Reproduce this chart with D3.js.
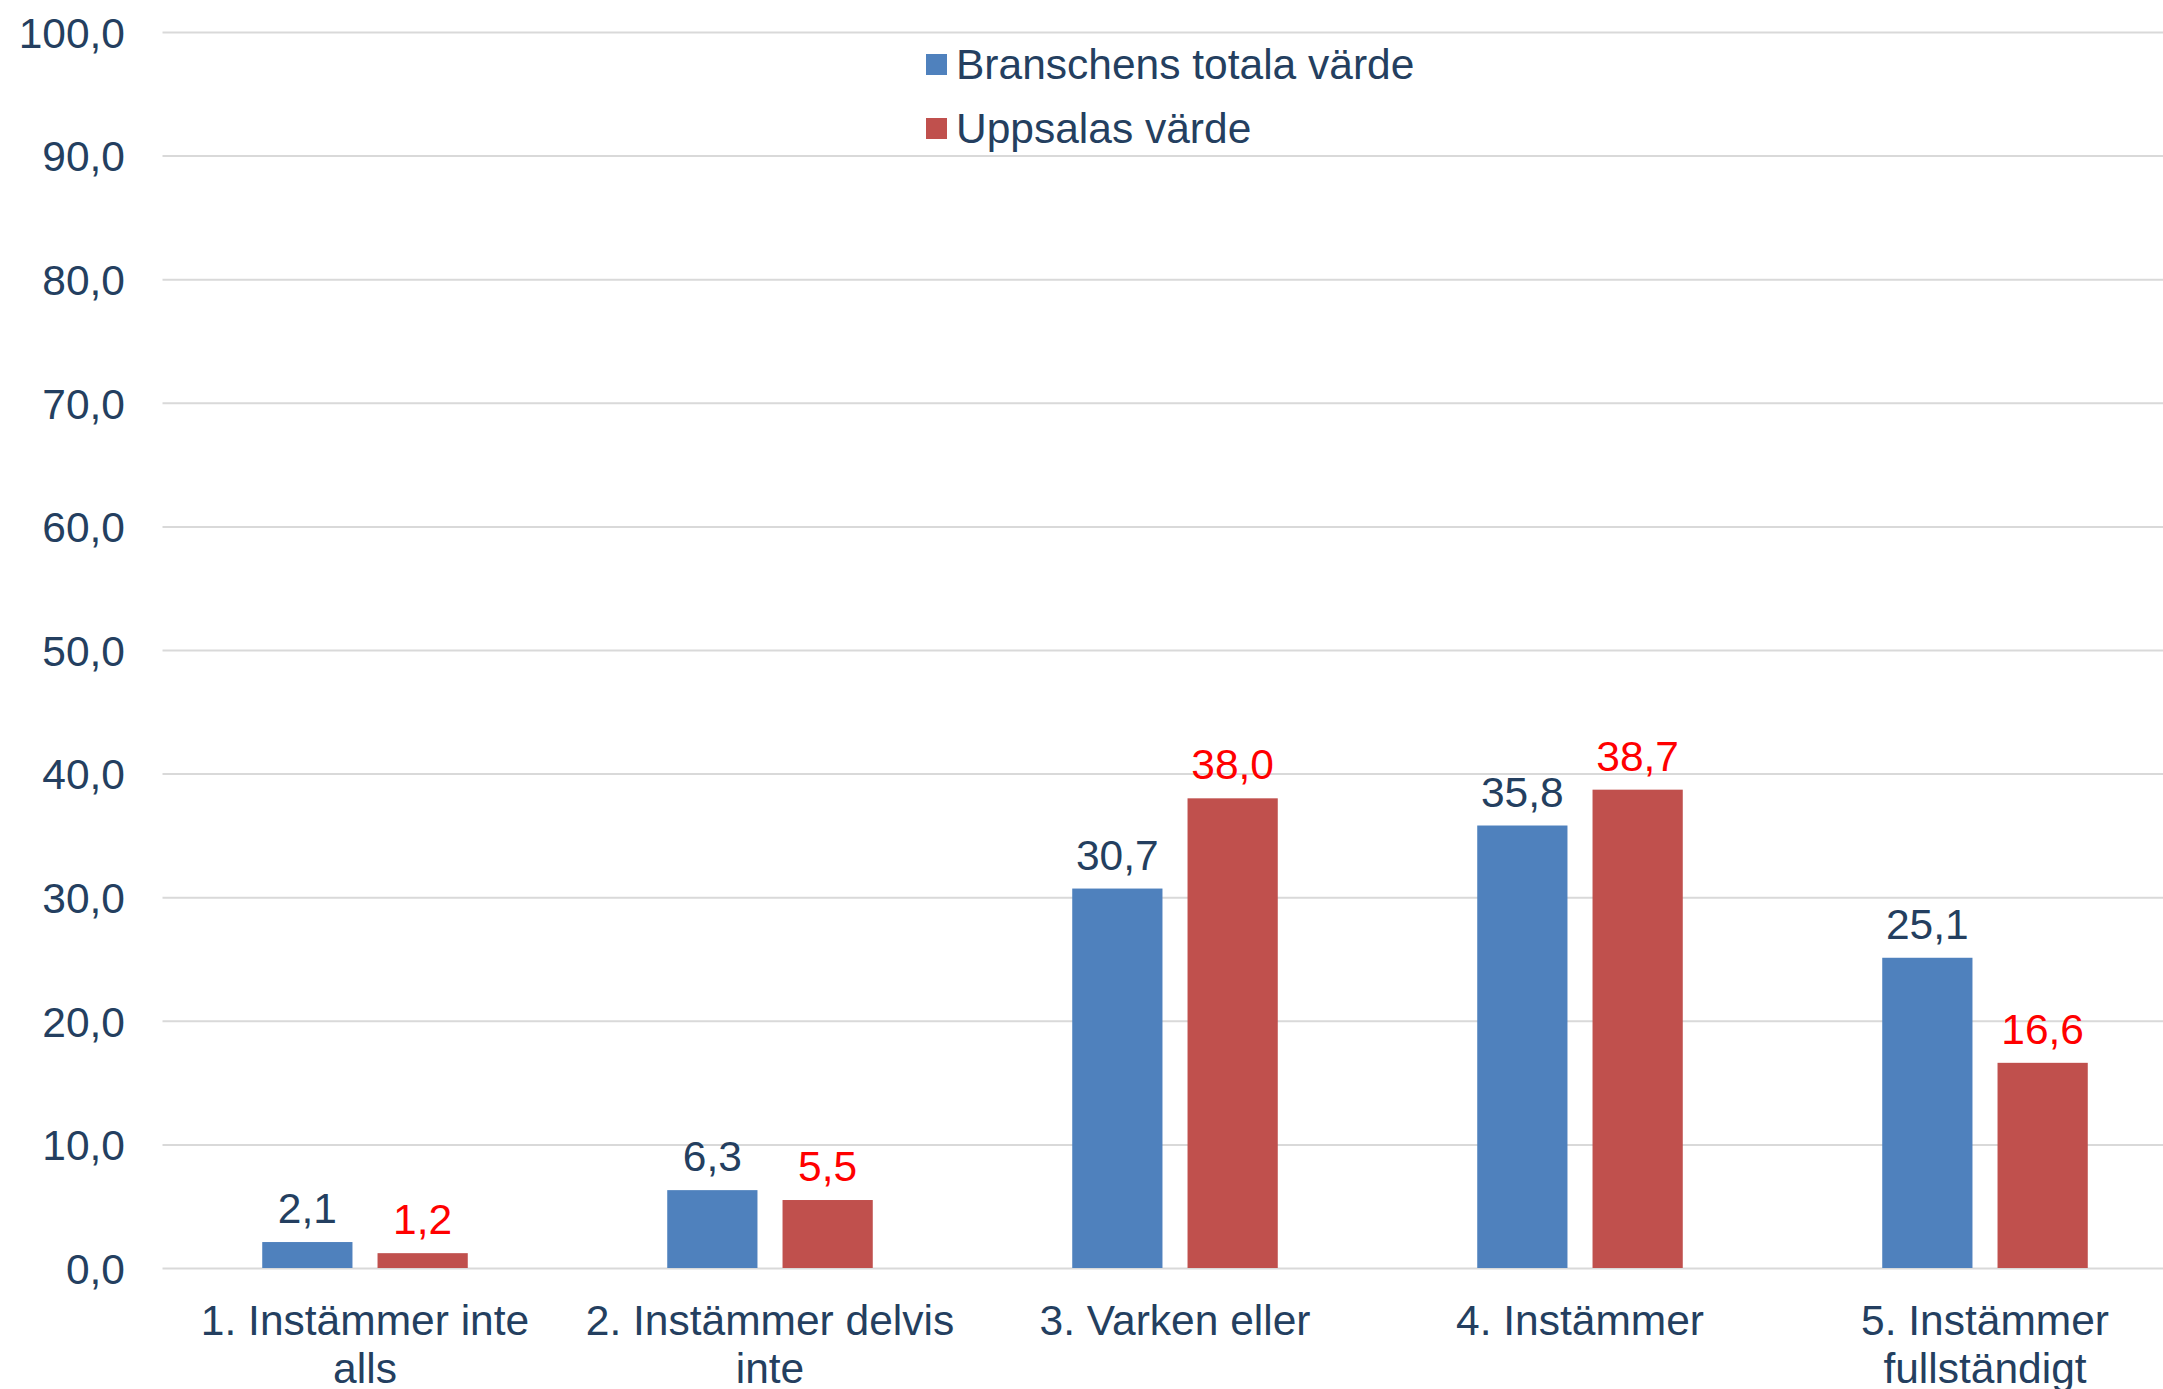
<!DOCTYPE html>
<html>
<head>
<meta charset="utf-8">
<script src="https://cdn.jsdelivr.net/npm/d3@7"></script>
<style>
  body { margin: 0; background: #fff; }
  svg { display: block; font-family: "Liberation Sans", Arial, sans-serif; }
  .grid line { stroke: #D9D9D9; stroke-width: 2; }
  .grid path { display: none; }
</style>
</head>
<body>
<div id="chart"></div>
<script>
var categories = ["1. Instämmer inte alls", "2. Instämmer delvis inte", "3. Varken eller", "4. Instämmer", "5. Instämmer fullständigt"];
var seriesNames = ["Branschens totala värde", "Uppsalas värde"];
var branschValues = [2.1, 6.3, 30.7, 35.8, 25.1];
var uppsalaValues = [1.2, 5.5, 38.0, 38.7, 16.6];
var yTicks = [0, 10, 20, 30, 40, 50, 60, 70, 80, 90, 100];

var barColors = ["#4F81BD", "#C0504D"];
var labelColors = ["#243F60", "#FF0000"];
var textColor = "#243F60";
var fontSize = 42.5;

var W = 2163, H = 1389;
// plot area runs a bit past the right edge, like the original crop
var x0Left = 162.5, x0Right = 2187.5, yTop = 32, yBottom = 1268;

var svg = d3.select("#chart").append("svg")
    .attr("width", W)
    .attr("height", H);

var fmt = function(v) { return d3.format(".1f")(v).replace(".", ","); };

var x0 = d3.scaleBand()
    .domain(categories)
    .range([x0Left, x0Right])
    .padding(0);

var x1 = d3.scaleBand()
    .domain(seriesNames)
    .range([0, x0.bandwidth()])
    .paddingInner(0.2174)
    .paddingOuter(0.865);

var y = d3.scaleLinear()
    .domain([0, 100])
    .range([yBottom, yTop]);

// gridlines
svg.append("g")
    .attr("class", "grid")
    .attr("transform", "translate(" + x0Left + ",0)")
    .call(d3.axisRight(y).tickValues(yTicks).tickSize(x0Right - x0Left).tickFormat(""));

// y tick labels
svg.append("g")
    .attr("transform", "translate(125,0)")
    .call(d3.axisLeft(y).tickValues(yTicks).tickSize(0).tickPadding(0).tickFormat(fmt))
    .call(function(g) { g.select(".domain").remove(); })
    .selectAll("text")
    .attr("font-size", fontSize)
    .attr("font-family", "Liberation Sans, Arial, sans-serif")
    .attr("fill", textColor)
    .attr("dy", "0.36em");

var rows = categories.map(function(c, i) {
  return { cat: c, vals: [branschValues[i], uppsalaValues[i]] };
});

var groups = svg.append("g")
    .selectAll("g")
    .data(rows)
    .enter()
    .append("g")
    .attr("transform", function(d) { return "translate(" + x0(d.cat) + ",0)"; });

groups.selectAll("rect")
    .data(function(d) { return d.vals.map(function(v, j) { return { s: seriesNames[j], v: v, j: j }; }); })
    .enter()
    .append("rect")
    .attr("x", function(d) { return x1(d.s); })
    .attr("y", function(d) { return y(d.v); })
    .attr("width", x1.bandwidth())
    .attr("height", function(d) { return yBottom - y(d.v); })
    .attr("fill", function(d) { return barColors[d.j]; });

groups.selectAll("text.val")
    .data(function(d) { return d.vals.map(function(v, j) { return { s: seriesNames[j], v: v, j: j }; }); })
    .enter()
    .append("text")
    .attr("class", "val")
    .attr("x", function(d) { return x1(d.s) + x1.bandwidth() / 2; })
    .attr("y", function(d) { return y(d.v) - 19; })
    .attr("text-anchor", "middle")
    .attr("font-size", fontSize)
    .attr("fill", function(d) { return labelColors[d.j]; })
    .text(function(d) { return fmt(d.v); });

// category labels
var xAxis = svg.append("g")
    .attr("transform", "translate(0," + yBottom + ")")
    .call(d3.axisBottom(x0).tickSize(0).tickPadding(0));
xAxis.select(".domain").remove();
xAxis.selectAll("text")
    .attr("font-size", fontSize)
    .attr("font-family", "Liberation Sans, Arial, sans-serif")
    .attr("fill", textColor)
    .attr("y", 67)
    .attr("dy", 0)
    .call(wrap, 395);

function wrap(sel, width) {
  sel.each(function() {
    var text = d3.select(this),
        words = text.text().split(/\s+/),
        line = [],
        lineNo = 0,
        yy = text.attr("y"),
        tspan = text.text(null).append("tspan").attr("x", 0).attr("y", yy);
    words.forEach(function(w) {
      line.push(w);
      tspan.text(line.join(" "));
      if (tspan.node().getComputedTextLength() > width && line.length > 1) {
        line.pop();
        tspan.text(line.join(" "));
        line = [w];
        lineNo++;
        tspan = text.append("tspan").attr("x", 0).attr("y", +yy + lineNo * 48).text(w);
      }
    });
  });
}

// legend
var legend = svg.append("g").attr("transform", "translate(926,0)");
var legendRows = [{ y: 54 }, { y: 118 }];
seriesNames.forEach(function(name, i) {
  legend.append("rect")
      .attr("x", 0)
      .attr("y", legendRows[i].y)
      .attr("width", 21)
      .attr("height", 21)
      .attr("fill", barColors[i]);
  legend.append("text")
      .attr("x", 30)
      .attr("y", legendRows[i].y + 25)
      .attr("font-size", fontSize)
      .attr("fill", textColor)
      .text(name);
});
</script>
</body>
</html>
